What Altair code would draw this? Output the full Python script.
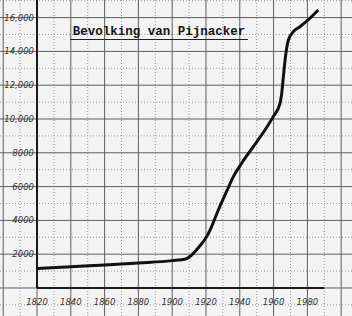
import altair as alt
import pandas as pd

# population series
years = [1820, 1840, 1860, 1880, 1900, 1908, 1912.5, 1916, 1920.4, 1922.4,
         1927.3, 1932.6, 1936.2, 1941.1, 1948, 1954.9, 1959.8, 1963.8, 1964.8,
         1965.7, 1966.7, 1968.7, 1971.7, 1975.6, 1981.5, 1986.4]
population = [1150, 1260, 1360, 1480, 1620, 1720, 2050, 2450, 3040, 3430,
              4615, 5800, 6590, 7380, 8360, 9350, 10140, 10930, 11500,
              12400, 13400, 14650, 15170, 15460, 15960, 16450]

# axis tick labels
x_tick_years = [1820, 1840, 1860, 1880, 1900, 1920, 1940, 1960, 1980]
x_tick_labels = ["1820", "1840", "1860", "1880", "1900", "1920", "1940", "1960", "1980"]
y_tick_values = [2000, 4000, 6000, 8000, 10000, 12000, 14000, 16000]
y_tick_labels = ["2000", "4000", "6000", "8000", "10,000", "12,000", "14,000", "16,000"]

# graph paper lines
major_years = [1800, 1820, 1840, 1860, 1880, 1900, 1920, 1940, 1960, 1980, 2000]
minor_years = [1810, 1830, 1850, 1870, 1890, 1910, 1930, 1950, 1970, 1990]
major_pops = [0, 2000, 4000, 6000, 8000, 10000, 12000, 14000, 16000]
minor_pops = [-1000, 1000, 3000, 5000, 7000, 9000, 11000, 13000, 15000, 17000]

title_text = "Bevolking van Pijnacker"

xs = alt.Scale(domain=[1798.1, 2006.4], nice=False, zero=False)
ys = alt.Scale(domain=[-1657, 17041], nice=False, zero=False)

df = pd.DataFrame({"year": years, "pop": population})

major_v = alt.Chart(pd.DataFrame({"year": major_years})).mark_rule(
    color="#5e5e5e", strokeWidth=1).encode(
    x=alt.X("year:Q", scale=xs, axis=None))
minor_v = alt.Chart(pd.DataFrame({"year": minor_years})).mark_rule(
    color="#999999", strokeWidth=1, strokeDash=[1, 2]).encode(
    x=alt.X("year:Q", scale=xs, axis=None))
major_h = alt.Chart(pd.DataFrame({"pop": major_pops})).mark_rule(
    color="#5e5e5e", strokeWidth=1).encode(
    y=alt.Y("pop:Q", scale=ys, axis=None))
minor_h = alt.Chart(pd.DataFrame({"pop": minor_pops})).mark_rule(
    color="#999999", strokeWidth=1, strokeDash=[1, 2]).encode(
    y=alt.Y("pop:Q", scale=ys, axis=None))

y_axis = alt.Chart(pd.DataFrame({"year": [1820], "p0": [0], "p1": [17041]})).mark_rule(
    color="#1a1a1a", strokeWidth=2).encode(
    x=alt.X("year:Q", scale=xs, axis=None),
    y=alt.Y("p0:Q", scale=ys, axis=None), y2="p1:Q")
x_axis = alt.Chart(pd.DataFrame({"y0": [1820], "y1": [1990], "pop": [0]})).mark_rule(
    color="#1a1a1a", strokeWidth=2).encode(
    x=alt.X("y0:Q", scale=xs, axis=None), x2="y1:Q",
    y=alt.Y("pop:Q", scale=ys, axis=None))

line = alt.Chart(df).mark_line(color="#111111", strokeWidth=3, interpolate="monotone").encode(
    x=alt.X("year:Q", scale=xs, axis=None),
    y=alt.Y("pop:Q", scale=ys, axis=None))

xlab = alt.Chart(pd.DataFrame({"year": x_tick_years, "label": x_tick_labels})).mark_text(
    font="DejaVu Sans", fontSize=8.5, fontStyle="italic", color="#333333",
    baseline="middle", align="center").encode(
    x=alt.X("year:Q", scale=xs, axis=None), y=alt.value(302), text="label:N")
ylab = alt.Chart(pd.DataFrame({"pop": y_tick_values, "label": y_tick_labels})).mark_text(
    font="DejaVu Sans", fontSize=8.5, fontStyle="italic", color="#333333",
    baseline="middle", align="right").encode(
    y=alt.Y("pop:Q", scale=ys, axis=None), x=alt.value(34), text="label:N")

title = alt.Chart(pd.DataFrame({"t": [title_text]})).mark_text(
    font="Liberation Mono", fontSize=12.5, fontWeight="bold", color="#151515",
    align="center", baseline="alphabetic").encode(
    x=alt.value(159), y=alt.value(35), text="t:N")
underline = alt.Chart(pd.DataFrame({"a": [0]})).mark_rule(color="#222222", strokeWidth=1.2).encode(
    x=alt.value(70), x2=alt.value(248), y=alt.value(39.5))

chart = alt.layer(minor_v, minor_h, major_v, major_h, y_axis, x_axis, line,
                  xlab, ylab, title, underline).properties(
    width=352, height=316, padding=0, autosize=alt.AutoSizeParams(type="none"),
    background="#f3f3f3").configure_view(stroke=None)

chart.save("out.html", embed_options={"renderer": "svg", "actions": False})
